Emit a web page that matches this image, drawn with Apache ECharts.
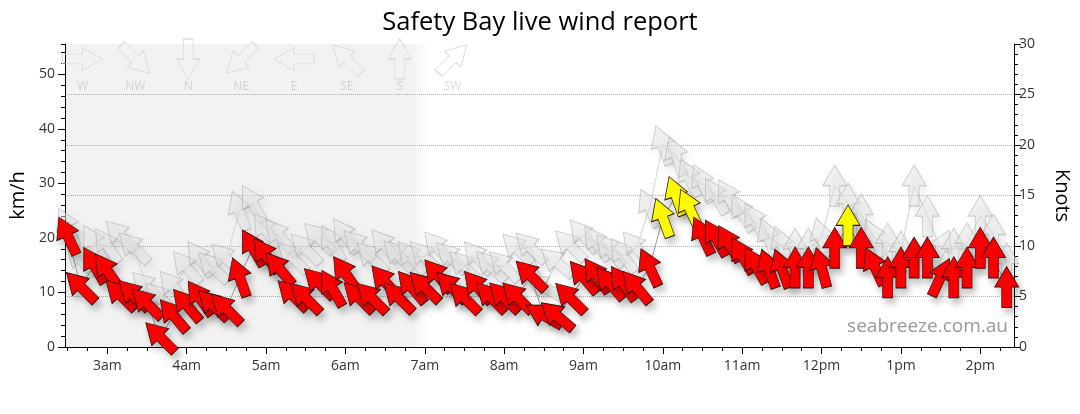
<!DOCTYPE html>
<html>
<head>
<meta charset="UTF-8">
<title>Safety Bay live wind report</title>
<script src="https://cdn.jsdelivr.net/npm/echarts@6/dist/echarts.min.js"></script>
<style>
  html, body { margin: 0; padding: 0; background: #fff; }
  #chart { width: 1080px; height: 414px; }
</style>
</head>
<body>
<div id="chart"></div>
<script>
    // readings every 10 minutes, speeds and gusts in km/h, direction = where wind comes from (deg)
    var times = ['02:30', '02:40', '02:50', '03:00', '03:10', '03:20', '03:30', '03:40', '03:50', '04:00', '04:10', '04:20',
        '04:30', '04:40', '04:50', '05:00', '05:10', '05:20', '05:30', '05:40', '05:50', '06:00', '06:10', '06:20',
        '06:30', '06:40', '06:50', '07:00', '07:10', '07:20', '07:30', '07:40', '07:50', '08:00', '08:10', '08:20',
        '08:30', '08:40', '08:50', '09:00', '09:10', '09:20', '09:30', '09:40', '09:50', '10:00', '10:10', '10:20',
        '10:30', '10:40', '10:50', '11:00', '11:10', '11:20', '11:30', '11:40', '11:50', '12:00', '12:10', '12:20',
        '12:30', '12:40', '12:50', '13:00', '13:10', '13:20', '13:30', '13:40', '13:50', '14:00', '14:10', '14:20'];
    var speed = [20.4, 11, 15, 14, 9.5, 9.5, 8, 1.8, 5.8, 7.7, 9, 7.7,
        7, 12.8, 18.2, 16.8, 14.4, 9.5, 9, 11.7, 10.8, 13.5, 9.1, 9,
        12, 9.1, 11, 11, 13.1, 11, 9, 11, 9.1, 9.1, 9.1, 13.1,
        5.8, 5.7, 9, 12.8, 13.1, 11.7, 11.7, 11, 14.6, 23.7, 27.7, 25.5,
        20.4, 20, 19, 16.8, 15, 14.4, 14.4, 14.6, 14.6, 14.6, 18.2, 22.3,
        18.2, 14.8, 12.8, 14.6, 16.4, 16.4, 12.8, 12.8, 14.6, 18.2, 16.4, 11];
    var gust = [22, 16, 19, 18.6, 20.4, 18.2, 11, 9, 11, 14.6, 16.2, 14.6,
        16.2, 25, 26.3, 21.4, 20.4, 16.4, 18, 20, 19, 20.4, 18.6, 16.4,
        18.6, 16.8, 16.4, 16.6, 18.2, 16.4, 14.8, 16.4, 14.8, 14.8, 18, 18.2,
        11, 15.5, 18.6, 20.4, 19, 17.7, 16.8, 18.2, 25.5, 37, 35, 31,
        30, 27.7, 27.4, 24.6, 23, 20, 18.6, 18, 18, 20, 29.6, 26.3,
        24.3, 20, 19, 17.5, 29.6, 24, 18, 18, 19, 24, 20.6, 15.3];
    var dirs = [155, 135, 150, 145, 135, 135, 135, 135, 140, 140, 145, 135,
        135, 160, 150, 145, 140, 135, 135, 135, 150, 145, 135, 135,
        140, 135, 140, 135, 140, 135, 135, 140, 135, 135, 135, 135,
        120, 130, 135, 140, 145, 140, 145, 140, 155, 160, 160, 155,
        155, 150, 150, 150, 150, 160, 160, 180, 180, 165, 180, 180,
        180, 155, 180, 180, 180, 180, 205, 180, 180, 180, 180, 180];

    var compass = ['W', 'NW', 'N', 'NE', 'E', 'SE', 'S', 'SW'];
    var compassDir = [270, 315, 0, 45, 90, 135, 180, 225];

    // hour ticks in minutes after midnight (3am .. 2pm), km/h labels
    var hourTicks = [180, 240, 300, 360, 420, 480, 540, 600, 660, 720, 780, 840];
    var kmhTicks = [0, 10, 20, 30, 40, 50];
    var nightEnd = 410;

    var xMin = 148, xMax = 865.5;
    var KMH_PER_KNOT = 1.852;
    var kmhMax = 30 * KMH_PER_KNOT;
    var arrow = 'path://M12,0 L24,20 L17,20 L17,40 L7,40 L7,20 L0,20 Z';

    function toMin(t) {
        var p = t.split(':');
        return +p[0] * 60 + +p[1];
    }

    function fmtHour(v) {
        var h = Math.round(v / 60);
        return (h % 12 || 12) + (h < 12 ? 'am' : 'pm');
    }

    var quarterTicks = [];
    for (var q = 150; q <= 855; q += 15) quarterTicks.push(q);

    var speedArrows = times.map(function (t, i) {
        return {
            value: [toMin(t), speed[i]],
            symbolRotate: 180 - dirs[i],
            itemStyle: {color: speed[i] >= 21 ? '#ffff00' : '#ff0000'}
        };
    });
    var gustArrows = times.map(function (t, i) {
        return {value: [toMin(t), gust[i]], symbolRotate: 180 - dirs[i]};
    });
    var speedLine = times.map(function (t, i) { return [toMin(t), speed[i]]; });
    var gustLine = times.map(function (t, i) { return [toMin(t), gust[i]]; });
    var legendArrows = compass.map(function (c, i) {
        return {value: [c, 0.5], symbolRotate: 180 - compassDir[i]};
    });

    var font = '"Open Sans", "Liberation Sans", Arial, sans-serif';
    var myChart = echarts.init(document.getElementById('chart'));
    var option = {
        animation: false,
        textStyle: {fontFamily: font},
        title: {
            text: 'Safety Bay live wind report',
            left: 'center',
            top: 5,
            textStyle: {fontFamily: font, fontSize: 25.5, fontWeight: 'normal', color: '#000'}
        },
        grid: [
            {left: 62, right: 62, top: 44, bottom: 67},
            {left: 56, top: 40, width: 423, height: 38}
        ],
        xAxis: [
            {
                type: 'value', gridIndex: 0, min: xMin, max: xMax,
                axisLine: {lineStyle: {color: '#000'}},
                axisTick: {show: true, customValues: hourTicks, length: 7, lineStyle: {color: '#000'}},
                axisLabel: {customValues: hourTicks, formatter: fmtHour, color: '#333', fontSize: 14, margin: 12},
                splitLine: {show: false}
            },
            {
                type: 'value', gridIndex: 0, min: xMin, max: xMax, position: 'bottom',
                axisLine: {show: false},
                axisTick: {show: true, customValues: quarterTicks, length: 4, lineStyle: {color: '#000'}},
                axisLabel: {show: false},
                splitLine: {show: false}
            },
            {
                type: 'category', gridIndex: 1, data: compass,
                axisLine: {show: false}, axisTick: {show: false},
                axisLabel: {color: '#dcdcdc', fontSize: 12, margin: 3}
            }
        ],
        yAxis: [
            {
                // minor ticks every 2 km/h
                type: 'value', gridIndex: 0, min: 0, max: kmhMax, interval: 2,
                axisLine: {show: true, lineStyle: {color: '#000'}},
                axisTick: {show: true, length: 4, lineStyle: {color: '#000'}},
                axisLabel: {show: false},
                splitLine: {show: false}
            },
            {
                type: 'value', gridIndex: 0, position: 'right', min: 0, max: 30, interval: 5,
                name: 'Knots', nameLocation: 'middle', nameGap: 38, nameRotate: -90,
                nameTextStyle: {fontSize: 20, color: '#000', fontFamily: font},
                axisLine: {show: true, lineStyle: {color: '#000'}},
                axisTick: {show: true, length: 7, lineStyle: {color: '#000'}},
                minorTick: {show: true, splitNumber: 5, length: 4, lineStyle: {color: '#000'}},
                axisLabel: {color: '#333', fontSize: 14, margin: 5},
                splitLine: {show: true, showMinLine: false, showMaxLine: false, lineStyle: {type: 'dotted', color: '#b4b4b4'}}
            },
            {type: 'value', gridIndex: 1, min: 0, max: 1, show: false},
            {
                type: 'value', gridIndex: 0, position: 'left', min: 0, max: kmhMax,
                name: 'km/h', nameLocation: 'middle', nameGap: 37, nameRotate: 90,
                nameTextStyle: {fontSize: 20, color: '#000', fontFamily: font},
                axisLine: {show: false},
                axisTick: {show: true, customValues: kmhTicks, length: 7, lineStyle: {color: '#000'}},
                axisLabel: {customValues: kmhTicks, color: '#333', fontSize: 14, margin: 10},
                splitLine: {show: false}
            }
        ],
        graphic: [{
            type: 'text', right: 72, top: 317, z: 0,
            style: {text: 'seabreeze.com.au', fill: '#999', font: '19px ' + font}
        }],
        series: [
            {
                type: 'line', xAxisIndex: 0, yAxisIndex: 0, data: gustLine, symbol: 'none', z: 1, silent: true,
                lineStyle: {color: '#d4d4d4', width: 1},
                markArea: {
                    silent: true,
                    label: {show: false},
                    data: [
                        [{xAxis: xMin, itemStyle: {color: 'rgba(0,0,0,0.05)'}}, {xAxis: nightEnd}],
                        [{
                            xAxis: nightEnd,
                            itemStyle: {
                                color: new echarts.graphic.LinearGradient(0, 0, 1, 0, [
                                    {offset: 0, color: 'rgba(0,0,0,0.05)'},
                                    {offset: 1, color: 'rgba(0,0,0,0)'}
                                ])
                            }
                        }, {xAxis: nightEnd + 13}]
                    ]
                }
            },
            {
                type: 'scatter', xAxisIndex: 0, yAxisIndex: 0, data: gustArrows, z: 2, silent: true,
                symbol: arrow, symbolSize: [24, 41],
                itemStyle: {
                    opacity: 1,
                    color: 'rgba(232,232,232,0.5)', borderColor: 'rgba(165,165,165,0.55)', borderWidth: 1,
                    shadowBlur: 7, shadowColor: 'rgba(0,0,0,0.12)', shadowOffsetX: 3, shadowOffsetY: 5
                }
            },
            {
                type: 'line', xAxisIndex: 0, yAxisIndex: 0, data: speedLine, symbol: 'none', z: 3, silent: true,
                lineStyle: {color: '#999', width: 1}
            },
            {
                type: 'scatter', xAxisIndex: 0, yAxisIndex: 0, data: speedArrows, z: 4, silent: true,
                symbol: arrow, symbolSize: [24, 41],
                itemStyle: {
                    opacity: 1,
                    borderColor: '#2a1010', borderWidth: 0.8,
                    shadowBlur: 7, shadowColor: 'rgba(0,0,0,0.25)', shadowOffsetX: 3, shadowOffsetY: 5
                }
            },
            {
                type: 'scatter', xAxisIndex: 2, yAxisIndex: 2, data: legendArrows, z: 2, silent: true,
                symbol: arrow, symbolSize: [23, 40],
                itemStyle: {opacity: 1, color: 'rgba(0,0,0,0)', borderColor: '#dcdcdc', borderWidth: 1}
            }
        ]
    };
    myChart.setOption(option);
</script>
</body>
</html>
